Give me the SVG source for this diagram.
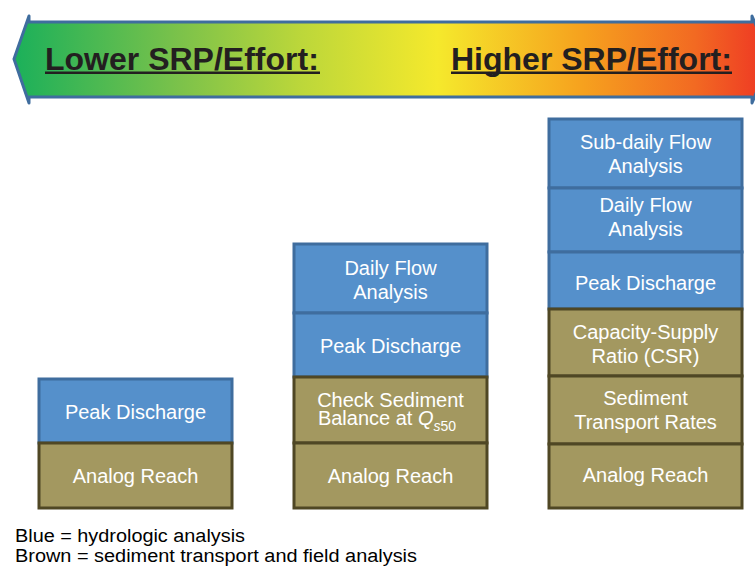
<svg xmlns="http://www.w3.org/2000/svg" width="755" height="567" viewBox="0 0 755 567">
  <defs>
    <linearGradient id="effortGrad" x1="0" y1="0" x2="1" y2="0">
      <stop offset="0" stop-color="#1bb05a"/>
      <stop offset="0.22" stop-color="#7cc24a"/>
      <stop offset="0.38" stop-color="#bcd73a"/>
      <stop offset="0.56" stop-color="#f5e92c"/>
      <stop offset="0.75" stop-color="#f6a21e"/>
      <stop offset="0.9" stop-color="#f26a22"/>
      <stop offset="1" stop-color="#ee3424"/>
    </linearGradient>
    <style>
      .blue { fill: #5590cb; stroke: #3f6d9e; stroke-width: 3; }
      .brown { fill: #a39860; stroke: #4f4724; stroke-width: 3; }
      .lbl { font-family: "Liberation Sans", Arial, sans-serif; font-size: 20px; fill: #ffffff; text-anchor: middle; }
      .head { font-family: "Liberation Sans", Arial, sans-serif; font-size: 32px; font-weight: bold; fill: #231f20; }
      .legend { font-family: "Liberation Sans", Arial, sans-serif; font-size: 18px; fill: #000000; }
    </style>
  </defs>

  <!-- effort scale arrow -->
  <g id="effort-arrow">
    <path d="M 14 59 L 29 16 L 29 22 L 752 22 L 752 16 L 770 59 L 752 103 L 752 97 L 29 97 L 29 103 Z" fill="url(#effortGrad)" stroke="#3f6d9e" stroke-width="3" stroke-linejoin="round"/>
    <text class="head" x="45" y="70">Lower SRP/Effort:</text>
    <rect x="45" y="71.5" width="275" height="2.5" fill="#231f20"/>
    <text class="head" x="451" y="70">Higher SRP/Effort:</text>
    <rect x="451" y="71.5" width="281" height="2.5" fill="#231f20"/>
  </g>

  <!-- column 1 -->
  <g id="c1-peak">
    <rect class="blue" x="39" y="379" width="193" height="64"/>
    <text class="lbl" x="135.5" y="419">Peak Discharge</text>
  </g>
  <g id="c1-analog">
    <rect class="brown" x="39" y="443" width="193" height="65"/>
    <text class="lbl" x="135.5" y="483">Analog Reach</text>
  </g>

  <!-- column 2 -->
  <g id="c2-daily">
    <rect class="blue" x="294" y="244" width="193" height="69"/>
    <text class="lbl" x="390.5" y="275">Daily Flow</text>
    <text class="lbl" x="390.5" y="299">Analysis</text>
  </g>
  <g id="c2-peak">
    <rect class="blue" x="294" y="313" width="193" height="64"/>
    <text class="lbl" x="390.5" y="353">Peak Discharge</text>
  </g>
  <g id="c2-balance">
    <rect class="brown" x="294" y="377" width="193" height="66"/>
    <text class="lbl" x="390.5" y="407">Check Sediment</text>
    <text class="lbl" x="387" y="425">Balance at <tspan font-style="italic">Q</tspan><tspan font-size="14" dy="6" font-style="italic">s</tspan><tspan font-size="14">50</tspan></text>
  </g>
  <g id="c2-analog">
    <rect class="brown" x="294" y="443" width="193" height="65"/>
    <text class="lbl" x="390.5" y="483">Analog Reach</text>
  </g>

  <!-- column 3 -->
  <g id="c3-subdaily">
    <rect class="blue" x="549" y="119" width="193" height="69"/>
    <text class="lbl" x="645.5" y="149">Sub-daily Flow</text>
    <text class="lbl" x="645.5" y="173">Analysis</text>
  </g>
  <g id="c3-daily">
    <rect class="blue" x="549" y="188" width="193" height="64"/>
    <text class="lbl" x="645.5" y="212">Daily Flow</text>
    <text class="lbl" x="645.5" y="236">Analysis</text>
  </g>
  <g id="c3-peak">
    <rect class="blue" x="549" y="252" width="193" height="57"/>
    <text class="lbl" x="645.5" y="290">Peak Discharge</text>
  </g>
  <g id="c3-csr">
    <rect class="brown" x="549" y="309" width="193" height="67"/>
    <text class="lbl" x="645.5" y="339">Capacity-Supply</text>
    <text class="lbl" x="645.5" y="363">Ratio (CSR)</text>
  </g>
  <g id="c3-rates">
    <rect class="brown" x="549" y="376" width="193" height="68"/>
    <text class="lbl" x="645.5" y="405">Sediment</text>
    <text class="lbl" x="645.5" y="429">Transport Rates</text>
  </g>
  <g id="c3-analog">
    <rect class="brown" x="549" y="444" width="193" height="64"/>
    <text class="lbl" x="645.5" y="482">Analog Reach</text>
  </g>

  <!-- legend -->
  <g id="legend">
    <text class="legend" x="15" y="542" textLength="230" lengthAdjust="spacingAndGlyphs">Blue = hydrologic analysis</text>
    <text class="legend" x="15" y="562" textLength="402" lengthAdjust="spacingAndGlyphs">Brown = sediment transport and field analysis</text>
  </g>
</svg>
